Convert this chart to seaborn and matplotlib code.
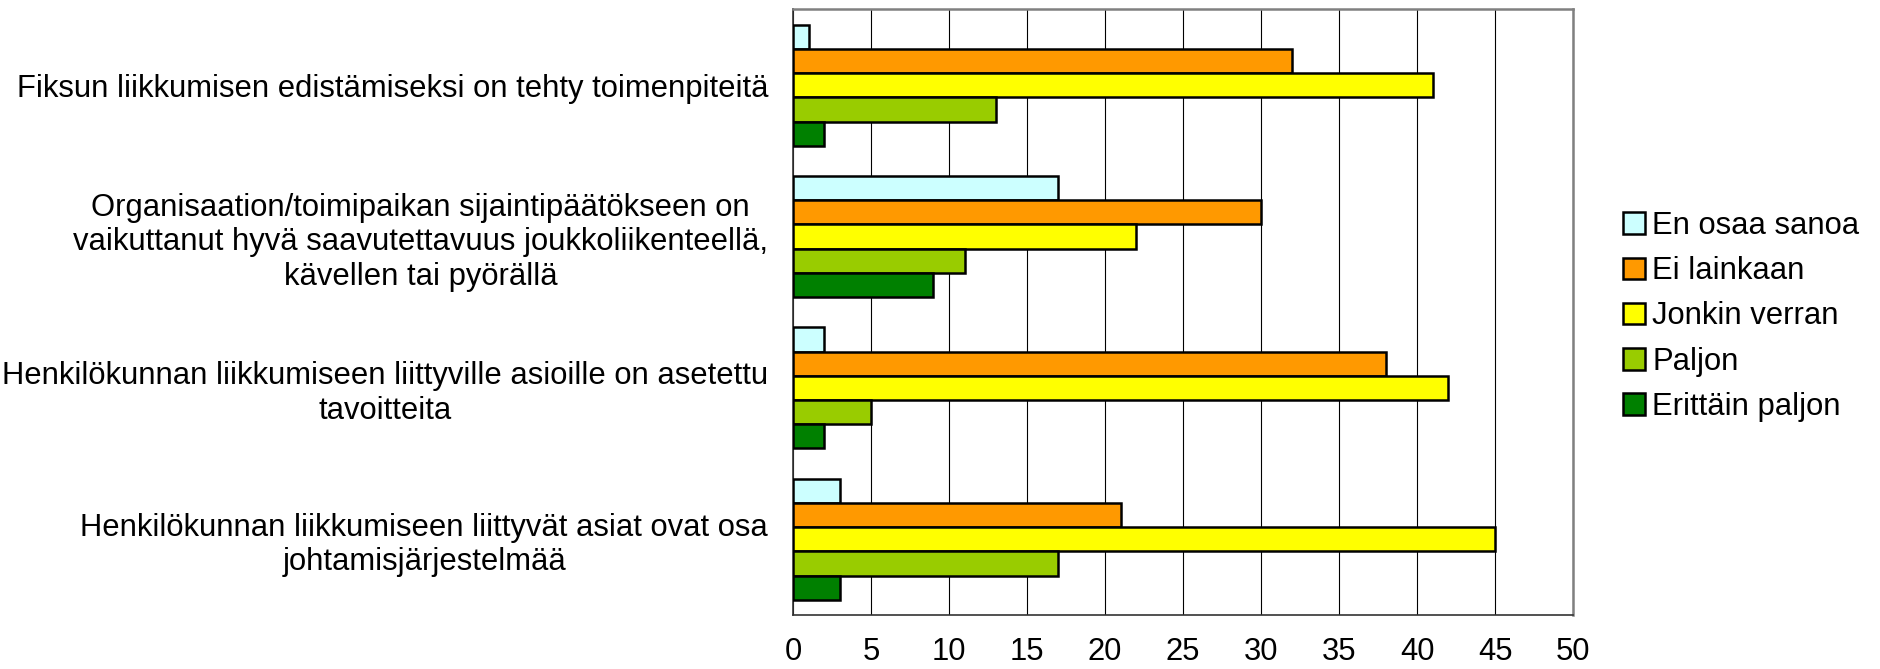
import numpy as np
import pandas as pd
import matplotlib
matplotlib.use("Agg")
import matplotlib.pyplot as plt
import seaborn as sns

# Data
categories = [
    "Fiksun liikkumisen edistämiseksi on tehty toimenpiteitä",
    "Organisaation/toimipaikan sijaintipäätökseen on\nvaikuttanut hyvä saavutettavuus joukkoliikenteellä,\nkävellen tai pyörällä",
    "Henkilökunnan liikkumiseen liittyville asioille on asetettu\ntavoitteita",
    "Henkilökunnan liikkumiseen liittyvät asiat ovat osa\njohtamisjärjestelmää",
]
series = ["En osaa sanoa", "Ei lainkaan", "Jonkin verran", "Paljon", "Erittäin paljon"]
en_osaa_sanoa = [1, 17, 2, 3]
ei_lainkaan = [32, 30, 38, 21]
jonkin_verran = [41, 22, 42, 45]
paljon = [13, 11, 5, 17]
erittain_paljon = [2, 9, 2, 3]
colors = ["#CCFFFF", "#FF9900", "#FFFF00", "#99CC00", "#008000"]
x_ticks = list(range(0, 51, 5))

values = [en_osaa_sanoa, ei_lainkaan, jonkin_verran, paljon, erittain_paljon]
rows = []
for s, vals in zip(series, values):
    for c, v in zip(categories, vals):
        rows.append({"category": c, "series": s, "value": v})
df = pd.DataFrame(rows)

sns.set_style("white")
plt.rcParams["font.family"] = ["Liberation Sans", "DejaVu Sans"]
plt.rcParams["text.color"] = "black"
FS = 22.3

fig = plt.figure(figsize=(18.81, 6.69), dpi=100)
ax = fig.add_axes([0.4216, 0.0807, 0.8363 - 0.4216, 0.9858 - 0.0807])

sns.barplot(data=df, y="category", x="value", hue="series", order=categories,
            hue_order=series, palette=colors, orient="h", width=0.8,
            edgecolor="black", linewidth=1.8, saturation=1, ax=ax, zorder=3)

ax.set_xlim(0, 50)
ax.set_ylim(len(categories) - 0.5, -0.5)
ax.set_xticks(x_ticks)
ax.set_xticklabels([str(t) for t in x_ticks], fontsize=FS)
ax.grid(axis="x", color="black", linewidth=0.8, zorder=0)
ax.set_axisbelow(True)
ax.set_xlabel("")
ax.set_ylabel("")

ax.tick_params(axis="x", direction="out", length=7, width=0.8, color="black",
               labelcolor="black", pad=9)
ax.tick_params(axis="y", which="major", length=0, pad=18, labelcolor="black")
for lab in ax.get_yticklabels():
    lab.set_fontsize(FS)
    lab.set_multialignment("center")
ax.set_yticks(np.arange(-0.5, len(categories), 1), minor=True)
ax.tick_params(axis="y", which="minor", direction="out", length=7, width=0.8, color="black")

for side in ["left", "bottom"]:
    ax.spines[side].set_color("#333333")
    ax.spines[side].set_linewidth(1.2)
for side in ["top", "right"]:
    ax.spines[side].set_color("#808080")
    ax.spines[side].set_linewidth(1.8)

leg = ax.legend(loc="center left", bbox_to_anchor=(1.048, 0.493), frameon=False,
                fontsize=FS, handlelength=0.7, handleheight=0.7, handletextpad=0.25,
                labelspacing=0.49, borderaxespad=0)
for h in leg.legend_handles:
    h.set_edgecolor("black")
    h.set_linewidth(1.8)

fig.savefig("out.png", dpi=100)
